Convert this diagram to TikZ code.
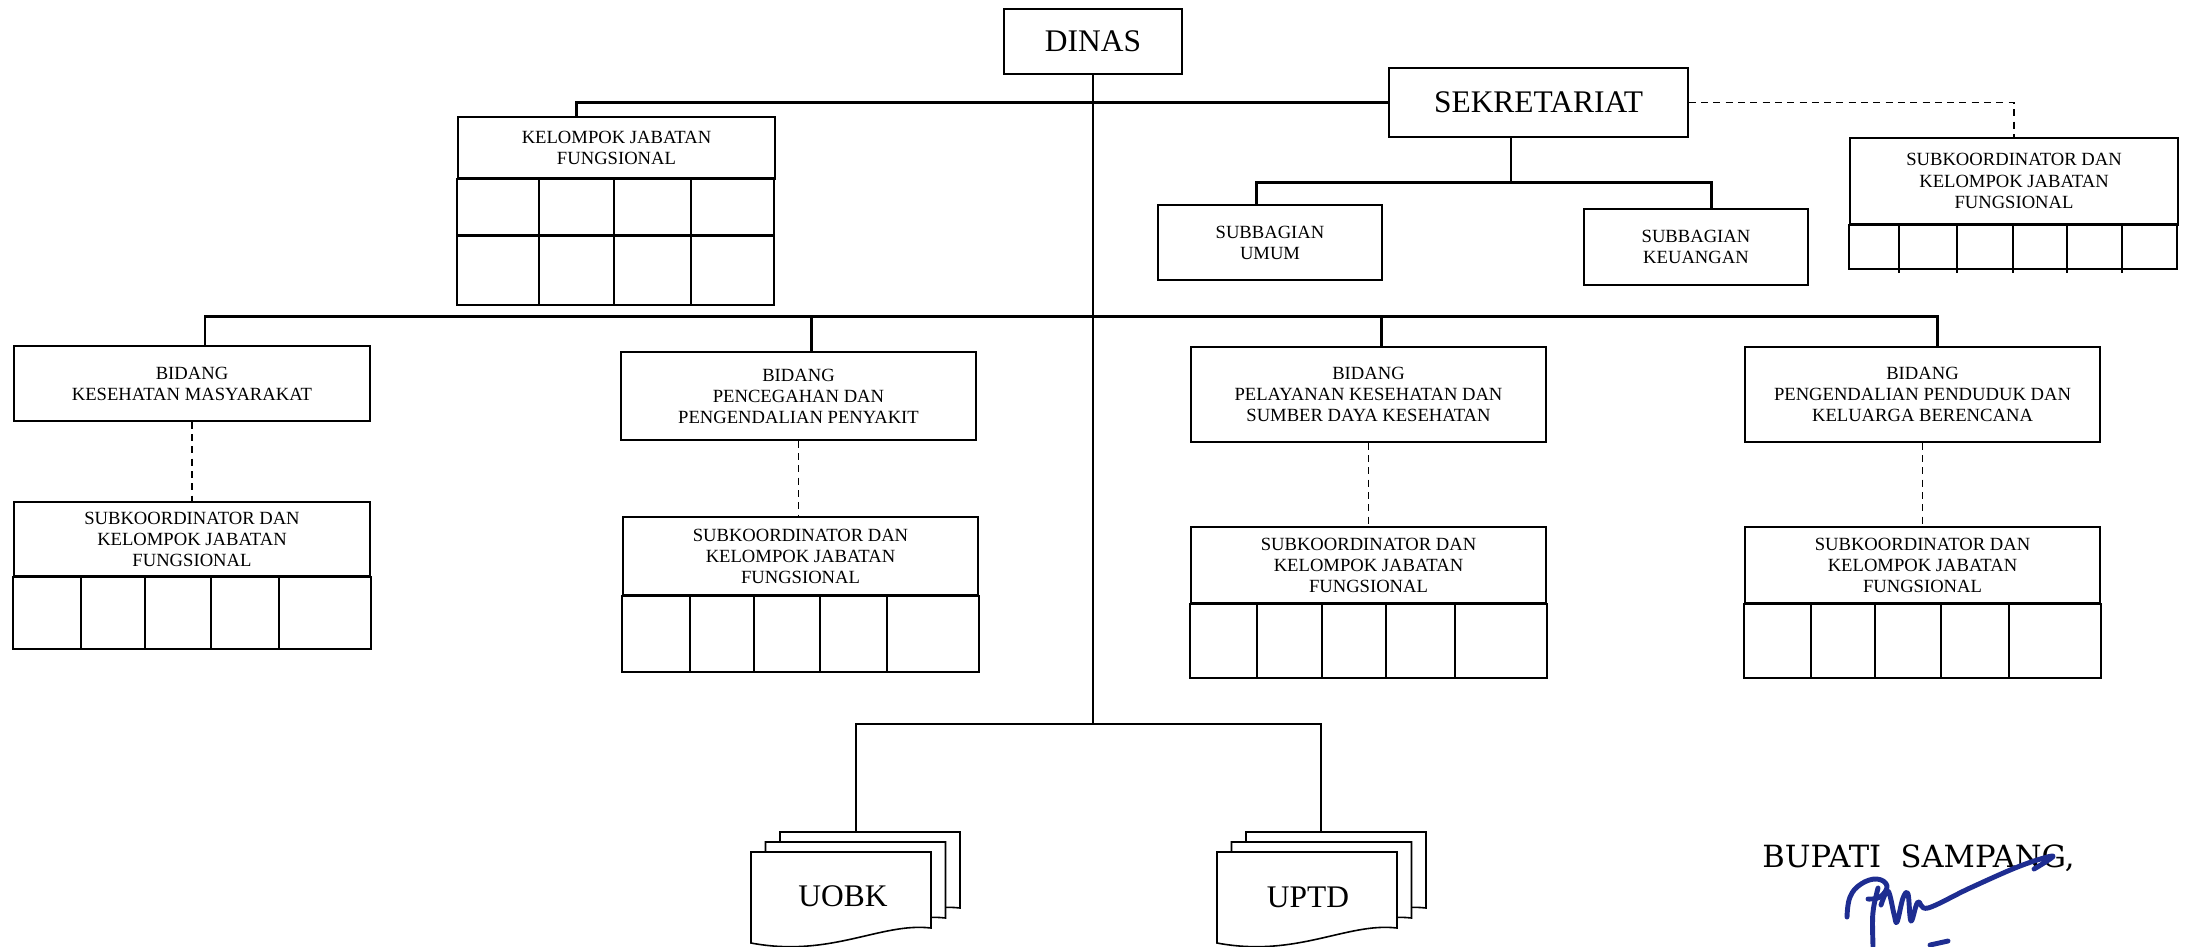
\documentclass[tikz,border=0pt]{standalone}
\usepackage{fontspec}
\setmainfont{Liberation Serif}
\newfontfamily\bupatifont{DejaVu Serif}
\usepackage{tikz}
\usetikzlibrary{calc}

\definecolor{ink}{RGB}{30,45,145}
\newlength{\px}
\setlength{\px}{0.2mm}
\newcommand{\skjflabel}{SUBKOORDINATOR DAN\\KELOMPOK JABATAN\\FUNGSIONAL}

\tikzset{
  unit/.style={draw, line width=0.9pt, align=center, inner sep=0pt,
    font=\fontsize{10.6}{12}\selectfont},
  head/.style={unit, font=\fontsize{17.9}{21}\selectfont},
  frame/.style={line width=0.9pt},
  cell/.style={line width=1.6pt},
  bus/.style={line width=1.7pt},
  link/.style={line width=0.7pt},
  branch/.style={line width=1pt},
  dashlink/.style={line width=1pt, dash pattern=on 4pt off 3pt},
  page/.style={draw, line width=0.9pt, fill=white},
  sign/.style={draw=ink, line width=2.8pt, line cap=round, line join=round}
}

\begin{document}
\begin{tikzpicture}[x=0.2mm, y=-0.2mm]
\useasboundingbox (0,0) rectangle (2185,946);

% Top level
\node[head, minimum width=178\px, minimum height=65\px] (dinas) at (1093,41.5) {DINAS};
\node[head, minimum width=299\px, minimum height=69\px] (sekre) at (1538.5,102.5) {SEKRETARIAT};

% Kelompok jabatan fungsional under DINAS
\node[unit, minimum width=317\px, minimum height=61\px] (kjf) at (616.5,147.5) {KELOMPOK JABATAN\\FUNGSIONAL};
\draw[frame] (kjf.south west) rectangle ++(317,126);
\draw[cell] (kjf.south west) -- (kjf.south east);
\draw[cell] (kjf.south west) ++(0,57) -- ++(317,0);
\foreach \x in {539,614,691}
  \draw[cell] (kjf.south -| \x,0) -- ++(0,126);

% Subkoordinator of the sekretariat
\node[unit, minimum width=328\px, minimum height=86\px] (skjf0) at (2014,181) {\skjflabel};
\draw[frame] (skjf0.south west) rectangle ++(328,44);
\draw[cell] (skjf0.south west) -- (skjf0.south east);
\foreach \x in {1899,1957,2013,2067,2122}
  \draw[cell] (skjf0.south -| \x,0) -- ++(0,48);

% Subbagian
\node[unit, minimum width=224\px, minimum height=75\px] (umum) at (1270,242.5) {SUBBAGIAN\\UMUM};
\node[unit, minimum width=224\px, minimum height=76\px] (keu) at (1696,247) {SUBBAGIAN\\KEUANGAN};

% Bidang
\node[unit, minimum width=356\px, minimum height=75\px] (kesmas) at (192,383.5) {BIDANG\\KESEHATAN MASYARAKAT};
\node[unit, minimum width=355\px, minimum height=88\px] (p2p) at (798.5,396) {BIDANG\\PENCEGAHAN DAN\\PENGENDALIAN PENYAKIT};
\node[unit, minimum width=355\px, minimum height=95\px] (yankes) at (1368.5,394.5) {BIDANG\\PELAYANAN KESEHATAN DAN\\SUMBER DAYA KESEHATAN};
\node[unit, minimum width=355\px, minimum height=95\px] (ppkb) at (1922.5,394.5) {BIDANG\\PENGENDALIAN PENDUDUK DAN\\KELUARGA BERENCANA};

% Subkoordinator under each bidang
\node[unit, minimum width=356\px, minimum height=74\px] (skjf1) at (192,539) {\skjflabel};
\node[unit, minimum width=355\px, minimum height=78\px] (skjf2) at (800.5,556) {\skjflabel};
\node[unit, minimum width=355\px, minimum height=76\px] (skjf3) at (1368.5,565) {\skjflabel};
\node[unit, minimum width=355\px, minimum height=76\px] (skjf4) at (1922.5,565) {\skjflabel};
\foreach \n/\h/\cols in {skjf1/72/{81,145,211,279}, skjf2/76/{690,754,820,887},
    skjf3/74/{1257,1322,1386,1455}, skjf4/74/{1811,1875,1941,2009}} {
  \draw[frame] (\n.south east) ++(0,\h) rectangle (\n.south west);
  \draw[cell] (\n.south west) -- (\n.south east);
  \foreach \x in \cols
    \draw[cell] (\n.south -| \x,0) -- ++(0,\h);
}

% Connectors
\coordinate (bot) at (1093,724);
\draw[link] (dinas.south) -- (bot);
\draw[bus] (sekre.west) -| ([xshift=-40.5\px]kjf.north);
\draw[dashlink] (sekre.east) -| (skjf0.north);

\coordinate (sbus) at (1511,182);
\draw[link] (sekre.south -| sbus) -- (sbus);
\draw[bus] ([xshift=-14\px]umum.north) |- (sbus) -| ([xshift=15\px]keu.north);

\coordinate (bbus) at (1093,316);
\foreach \n/\dx in {kesmas/13, p2p/12.5, yankes/12.5, ppkb/14.5}
  \draw[bus] ([xshift=\dx\px]\n.north) |- (bbus);
\foreach \b/\s in {kesmas/skjf1, p2p/skjf2, yankes/skjf3, ppkb/skjf4}
  \draw[dashlink] (\b.south) -- (\b.south |- \s.north);

% UOBK and UPTD
\coordinate (uobkTop) at (856,832);
\coordinate (uptdTop) at (1321,832);
\draw[branch] (uobkTop) |- (bot) -| (uptdTop);
\foreach \x in {751,1217}
  \foreach \s in {2,1,0}
    \draw[page, shift={(\x+14.5*\s,852-10*\s)}] (0,0) -- (180,0) -- (180,76)
      .. controls (130,70) and (80,106) .. (0,91) -- cycle;
\node[font=\fontsize{17.9}{21}\selectfont] (uobk) at (843,896) {UOBK};
\node[font=\fontsize{17.9}{21}\selectfont] (uptd) at (1308,897) {UPTD};

% Signature
\node[anchor=base west, inner sep=0pt, font=\bupatifont\fontsize{17.4}{20}\selectfont] (bupati) at (1762,867) {BUPATI~~SAMPANG,};
\draw[sign] plot[smooth, tension=0.7] coordinates {(1847,917) (1850,897) (1861,884) (1877,879) (1887,886) (1880,897) (1868,899)};
\draw[sign] (1878,888) .. controls (1872,912) .. (1873,946);
\draw[sign] plot[smooth, tension=0.6] coordinates {(1881,905) (1888,891) (1894,914) (1897,922) (1903,898) (1908,894) (1911,921) (1918,902) (1928,908) (1970,888) (2020,866) (2053,856) (2034,869)};
\draw[sign] (1930,945) -- (1948,941);

\end{tikzpicture}
\end{document}
